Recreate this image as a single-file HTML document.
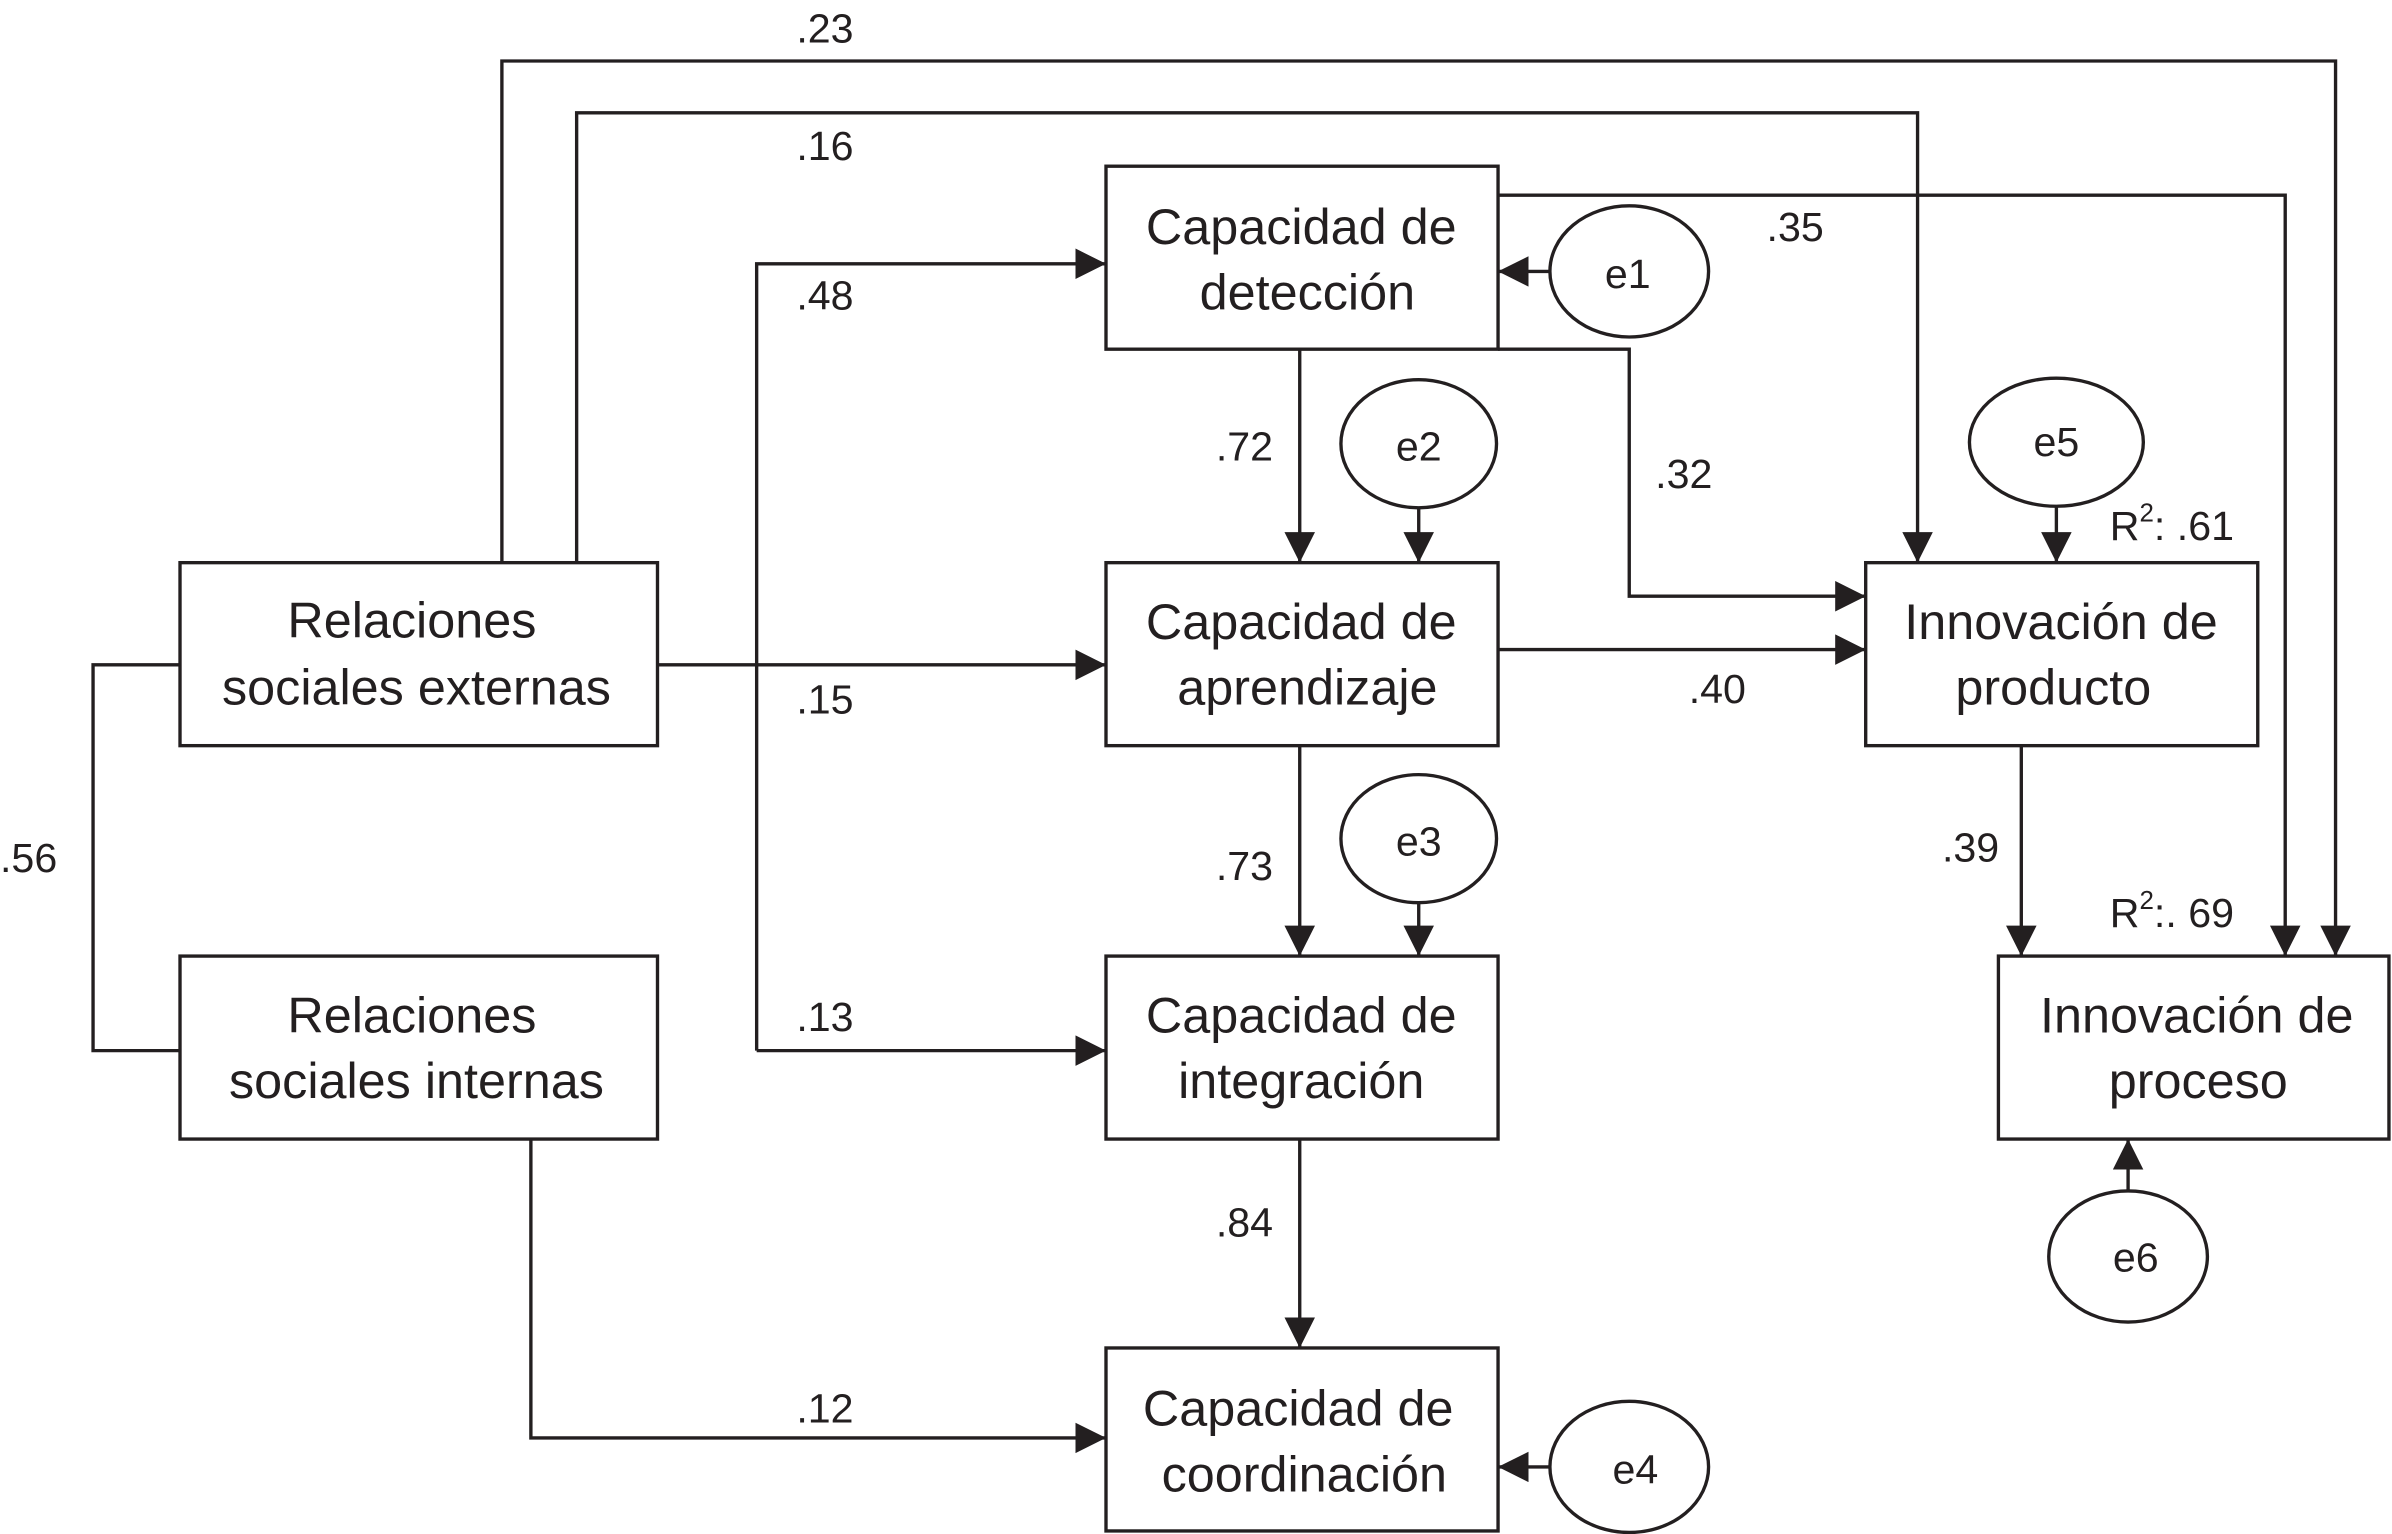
<!DOCTYPE html>
<html><head><meta charset="utf-8"><style>
html,body{margin:0;padding:0;background:#fff;}
svg{display:block;}
text{font-family:"Liberation Sans",Arial,sans-serif;fill:#231f20;}
.b{font-size:33px;text-anchor:middle;}
.n{font-size:27px;}
.e{font-size:27px;text-anchor:middle;}
</style></head><body>
<svg width="2392" height="1534" viewBox="0 0 1568 1006" preserveAspectRatio="none" xmlns="http://www.w3.org/2000/svg">
<defs>
<marker id="a" markerWidth="22" markerHeight="22" refX="20" refY="10" orient="auto" markerUnits="userSpaceOnUse">
<path d="M0,0 L20,10 L0,20 Z" fill="#231f20"/>
</marker>
</defs>
<g fill="none" stroke="#231f20" stroke-width="2.2">
<!-- boxes -->
<rect x="118" y="369" width="313" height="120"/>
<rect x="118" y="627" width="313" height="120"/>
<rect x="725" y="109" width="257" height="120"/>
<rect x="725" y="369" width="257" height="120"/>
<rect x="725" y="627" width="257" height="120"/>
<rect x="725" y="884" width="257" height="120"/>
<rect x="1223" y="369" width="257" height="120"/>
<rect x="1310" y="627" width="256" height="120"/>
<!-- ellipses -->
<ellipse cx="1068" cy="178" rx="52" ry="43"/>
<ellipse cx="930" cy="291" rx="51" ry="42"/>
<ellipse cx="930" cy="550" rx="51" ry="42"/>
<ellipse cx="1068" cy="962" rx="52" ry="43"/>
<ellipse cx="1348" cy="290" rx="57" ry="42"/>
<ellipse cx="1395" cy="824" rx="52" ry="43"/>
<!-- connectors -->
<path d="M329,369 V40 H1531 V627" marker-end="url(#a)"/>
<path d="M378,369 V74 H1257 V369" marker-end="url(#a)"/>
<path d="M982,128 H1498 V627" marker-end="url(#a)"/>
<path d="M982,229 H1068 V391 H1223" marker-end="url(#a)"/>
<path d="M118,436 H61 V689 H118"/>
<path d="M431,436 H725" marker-end="url(#a)"/>
<path d="M496,689 V173 H725" marker-end="url(#a)"/>
<path d="M496,689 H725" marker-end="url(#a)"/>
<path d="M852,229 V369" marker-end="url(#a)"/>
<path d="M930,333 V369" marker-end="url(#a)"/>
<path d="M982,426 H1223" marker-end="url(#a)"/>
<path d="M852,489 V627" marker-end="url(#a)"/>
<path d="M930,592 V627" marker-end="url(#a)"/>
<path d="M852,747 V884" marker-end="url(#a)"/>
<path d="M348,747 V943 H725" marker-end="url(#a)"/>
<path d="M1016,962 H982" marker-end="url(#a)"/>
<path d="M1016,178 H982" marker-end="url(#a)"/>
<path d="M1348,332 V369" marker-end="url(#a)"/>
<path d="M1325,489 V627" marker-end="url(#a)"/>
<path d="M1395,781 V747" marker-end="url(#a)"/>
</g>
<!-- box labels -->
<text class="b" x="270" y="418">Relaciones</text>
<text class="b" x="273" y="462">sociales externas</text>
<text class="b" x="270" y="677">Relaciones</text>
<text class="b" x="273" y="720">sociales internas</text>
<text class="b" x="853" y="160">Capacidad de</text>
<text class="b" x="857" y="203">detección</text>
<text class="b" x="853" y="419">Capacidad de</text>
<text class="b" x="857" y="462">aprendizaje</text>
<text class="b" x="853" y="677">Capacidad de</text>
<text class="b" x="853" y="720">integración</text>
<text class="b" x="851" y="935">Capacidad de</text>
<text class="b" x="855" y="978">coordinación</text>
<text class="b" x="1351" y="419">Innovación de</text>
<text class="b" x="1346" y="462">producto</text>
<text class="b" x="1440" y="677">Innovación de</text>
<text class="b" x="1441" y="720">proceso</text>
<!-- error labels -->
<text class="e" x="1067" y="189">e1</text>
<text class="e" x="930" y="302">e2</text>
<text class="e" x="930" y="561">e3</text>
<text class="e" x="1072" y="973">e4</text>
<text class="e" x="1348" y="299">e5</text>
<text class="e" x="1400" y="834">e6</text>
<!-- coefficients -->
<text class="n" x="522" y="28">.23</text>
<text class="n" x="522" y="105">.16</text>
<text class="n" x="522" y="203">.48</text>
<text class="n" x="522" y="468">.15</text>
<text class="n" x="522" y="676">.13</text>
<text class="n" x="522" y="933">.12</text>
<text class="n" x="0" y="572">.56</text>
<text class="n" x="797" y="302">.72</text>
<text class="n" x="797" y="577">.73</text>
<text class="n" x="797" y="811">.84</text>
<text class="n" x="1158" y="158">.35</text>
<text class="n" x="1085" y="320">.32</text>
<text class="n" x="1107" y="461">.40</text>
<text class="n" x="1273" y="565">.39</text>
<text class="n" x="1383" y="354">R<tspan font-size="17" dy="-12">2</tspan><tspan dy="12">: .61</tspan></text>
<text class="n" x="1383" y="608">R<tspan font-size="17" dy="-12">2</tspan><tspan dy="12">:. 69</tspan></text>
</svg>
</body></html>
